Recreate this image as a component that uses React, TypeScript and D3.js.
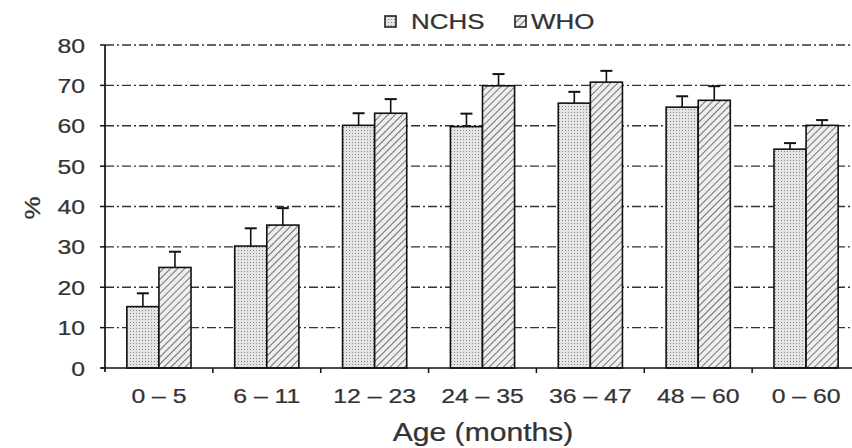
import React from "react";
import * as d3 from "d3";

const categories = ["0–5", "6–11", "12–23", "24–35", "36–47", "48–60", "0–60"];
const seriesNames = ["NCHS", "WHO"];
const nchsValues = [15.2, 30.2, 60.1, 59.8, 65.6, 64.6, 54.2];
const nchsErrors = [18.5, 34.6, 63.1, 63.0, 68.4, 67.3, 55.7];
const whoValues = [24.9, 35.4, 63.1, 69.9, 70.8, 66.3, 60.1];
const whoErrors = [28.8, 39.6, 66.6, 72.8, 73.6, 69.8, 61.4];
const yTicks = [0, 10, 20, 30, 40, 50, 60, 70, 80];

const W = 852;
const H = 448;
const left = 105;
const right = 860;
const top = 45;
const bottom = 368;
const font = "'Liberation Sans', Arial, sans-serif";
const textColor = "#333";
const stretch = 1.18;

// Text drawn with a slight horizontal stretch, like the printed figure's lettering.
function Label(props: {
  x: number;
  y: number;
  size: number;
  anchor?: "start" | "middle" | "end";
  rotate?: number;
  children: React.ReactNode;
}) {
  const { x, y, size, anchor = "start", rotate = 0, children } = props;
  return (
    <text
      transform={`translate(${x},${y}) rotate(${rotate}) scale(${stretch},1)`}
      textAnchor={anchor}
      fontSize={size}
      fill={textColor}
      stroke={textColor}
      strokeWidth={0.25}
    >
      {children}
    </text>
  );
}

export default function App() {
  const x = d3
    .scaleBand<string>()
    .domain(categories)
    .range([left, right])
    .paddingInner(0.405)
    .paddingOuter(0.2025);
  const sub = d3.scaleBand<string>().domain(seriesNames).range([0, x.bandwidth()]);
  const y = d3.scaleLinear().domain([0, 80]).range([bottom, top]);

  const series = [
    { name: "NCHS", values: nchsValues, errs: nchsErrors, fill: "url(#dots)" },
    { name: "WHO", values: whoValues, errs: whoErrors, fill: "url(#hatch)" },
  ];

  const boundaries = categories
    .slice(0, -1)
    .map((c) => (x(c) as number) + x.bandwidth() + (x.step() - x.bandwidth()) / 2);

  return (
    <svg
      width={W}
      height={H}
      style={{ position: "absolute", left: 0, top: 0, background: "#fff" }}
      fontFamily={font}
    >
      <defs>
        <pattern id="dots" width="3" height="3" patternUnits="userSpaceOnUse">
          <rect width="3" height="3" fill="#e4e4e4" />
          <rect x="1" y="1" width="1" height="1" fill="#888" />
        </pattern>
        <pattern id="hatch" width="5" height="5" patternUnits="userSpaceOnUse" patternTransform="rotate(45)">
          <rect width="5" height="5" fill="#eeeeee" />
          <line x1="0" y1="0" x2="0" y2="5" stroke="#555" strokeWidth="1.6" />
        </pattern>
      </defs>

      {/* dash-dot gridlines */}
      {yTicks
        .filter((t) => t > 0)
        .map((t) => (
          <line
            key={t}
            x1={left}
            x2={W}
            y1={y(t)}
            y2={y(t)}
            stroke="#333"
            strokeWidth={1.4}
            strokeDasharray="9,3,2,3"
          />
        ))}

      {/* bars with error bars */}
      {series.map((s) =>
        categories.map((c, i) => {
          const bx = (x(c) as number) + (sub(s.name) as number);
          const bw = sub.bandwidth();
          const cx = bx + bw / 2;
          return (
            <g key={s.name + c}>
              <line x1={cx} x2={cx} y1={y(s.values[i])} y2={y(s.errs[i])} stroke="#111" strokeWidth={1.6} />
              <line x1={cx - 6} x2={cx + 6} y1={y(s.errs[i])} y2={y(s.errs[i])} stroke="#111" strokeWidth={2} />
              <rect
                x={bx}
                y={y(s.values[i])}
                width={bw}
                height={bottom - y(s.values[i])}
                fill={s.fill}
                stroke="#111"
                strokeWidth={1.6}
              />
            </g>
          );
        })
      )}

      {/* axes */}
      <line x1={left} x2={left} y1={top} y2={bottom + 4} stroke="#111" strokeWidth={1.7} />
      <line x1={left - 4} x2={W} y1={bottom} y2={bottom} stroke="#111" strokeWidth={1.7} />
      {yTicks.map((t) => (
        <g key={t}>
          <line x1={left - 5} x2={left} y1={y(t)} y2={y(t)} stroke="#111" strokeWidth={1.5} />
          <Label x={85} y={y(t) + 7.5} size={21} anchor="end">
            {t}
          </Label>
        </g>
      ))}
      {boundaries.map((b, i) => (
        <line key={i} x1={b} x2={b} y1={bottom} y2={bottom + 5} stroke="#111" strokeWidth={1.5} />
      ))}
      {categories.map((c) => (
        <Label key={c} x={(x(c) as number) + x.bandwidth() / 2} y={403} size={21} anchor="middle">
          {c.replace("–", " – ")}
        </Label>
      ))}
      <Label x={483} y={441} size={25.5} anchor="middle">
        Age (months)
      </Label>
      <Label x={40} y={208} size={22} anchor="middle" rotate={-90}>
        %
      </Label>

      {/* legend */}
      <g>
        <rect x={385} y={16} width={11} height={11} fill="url(#dots)" stroke="#222" strokeWidth={1.6} />
        <Label x={411} y={29} size={22}>NCHS</Label>
        <rect x={515} y={16} width={11} height={11} fill="url(#hatch)" stroke="#222" strokeWidth={1.6} />
        <Label x={531} y={29} size={22}>WHO</Label>
      </g>
    </svg>
  );
}
